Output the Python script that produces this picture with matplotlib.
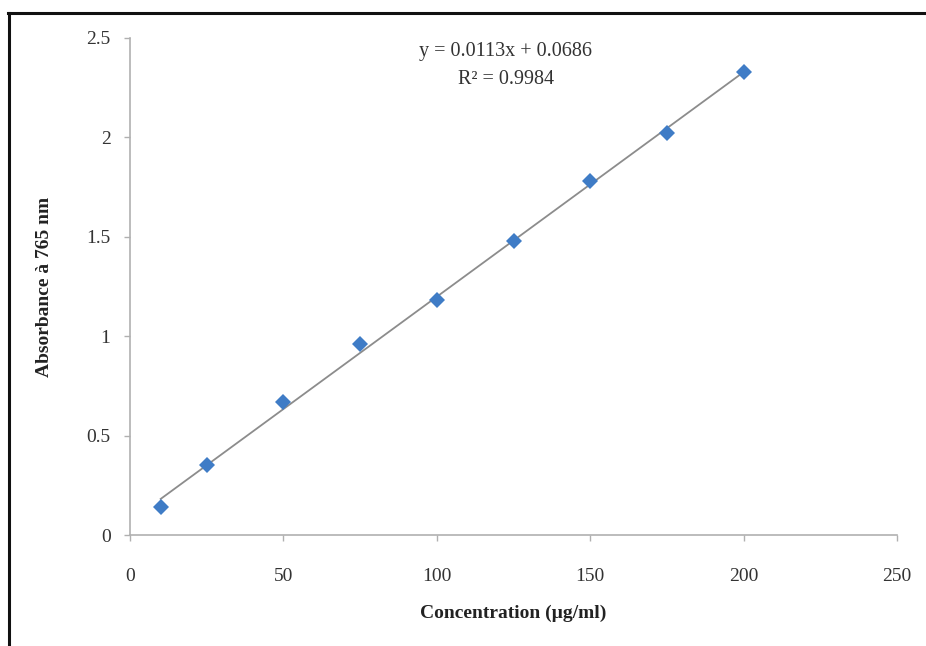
import numpy as np
import matplotlib.pyplot as plt
from matplotlib.lines import Line2D

concentration = [10, 25, 50, 75, 100, 125, 150, 175, 200]
absorbance = [0.14, 0.35, 0.67, 0.96, 1.18, 1.48, 1.78, 2.02, 2.33]
slope = 0.0113
intercept = 0.0686
r_squared = 0.9984

plt.rcParams['font.family'] = ['Liberation Serif', 'DejaVu Serif']

fig = plt.figure(figsize=(9.26, 6.46), dpi=100)
ax = fig.add_axes([0.1404, 0.1718, 0.8283, 0.7694])

# trend line over the data range
xfit = np.array([min(concentration), max(concentration)])
ax.plot(xfit, slope * xfit + intercept, color='#8c8c8c', lw=1.3, zorder=2)
ax.plot(concentration, absorbance, 'D', color='#3f7cc6', markersize=8.5,
        markeredgewidth=0, zorder=3)

ax.set_xlim(0, 250)
ax.set_ylim(0, 2.5)
ax.set_xticks([0, 50, 100, 150, 200, 250])
ax.set_yticks([0, 0.5, 1, 1.5, 2, 2.5])
ax.set_yticklabels(['0', '0.5', '1', '1.5', '2', '2.5'])

for side in ['top', 'right']:
    ax.spines[side].set_visible(False)
for side in ['left', 'bottom']:
    ax.spines[side].set_color('#b0b0b0')
    ax.spines[side].set_linewidth(1.2)
ax.tick_params(colors='#b0b0b0', labelcolor='#333333', labelsize=14,
               length=4, width=1)
ax.tick_params(axis='x', pad=20)
ax.tick_params(axis='y', pad=10)

ax.set_xlabel('Concentration (µg/ml)', fontsize=14, fontweight='bold',
              color='#222222', labelpad=14)
ax.set_ylabel('Absorbance à 765 nm', fontsize=14, fontweight='bold',
              color='#222222', labelpad=24)

ax.text(122.5, 2.43, 'y = %.4fx + %.4f' % (slope, intercept), ha='center',
        va='center', fontsize=14.5, color='#333333')
ax.text(122.5, 2.29, 'R² = %.4f' % r_squared, ha='center', va='center',
        fontsize=14.5, color='#333333')

# partial frame around the chart (left and top edges)
fig.add_artist(Line2D([9 / 926, 9 / 926], [0, 1 - 13 / 646],
                      transform=fig.transFigure, color='#111111', lw=2.2))
fig.add_artist(Line2D([8 / 926, 1], [1 - 13 / 646, 1 - 13 / 646],
                      transform=fig.transFigure, color='#111111', lw=2.2))

fig.savefig('out.png', dpi=100)
